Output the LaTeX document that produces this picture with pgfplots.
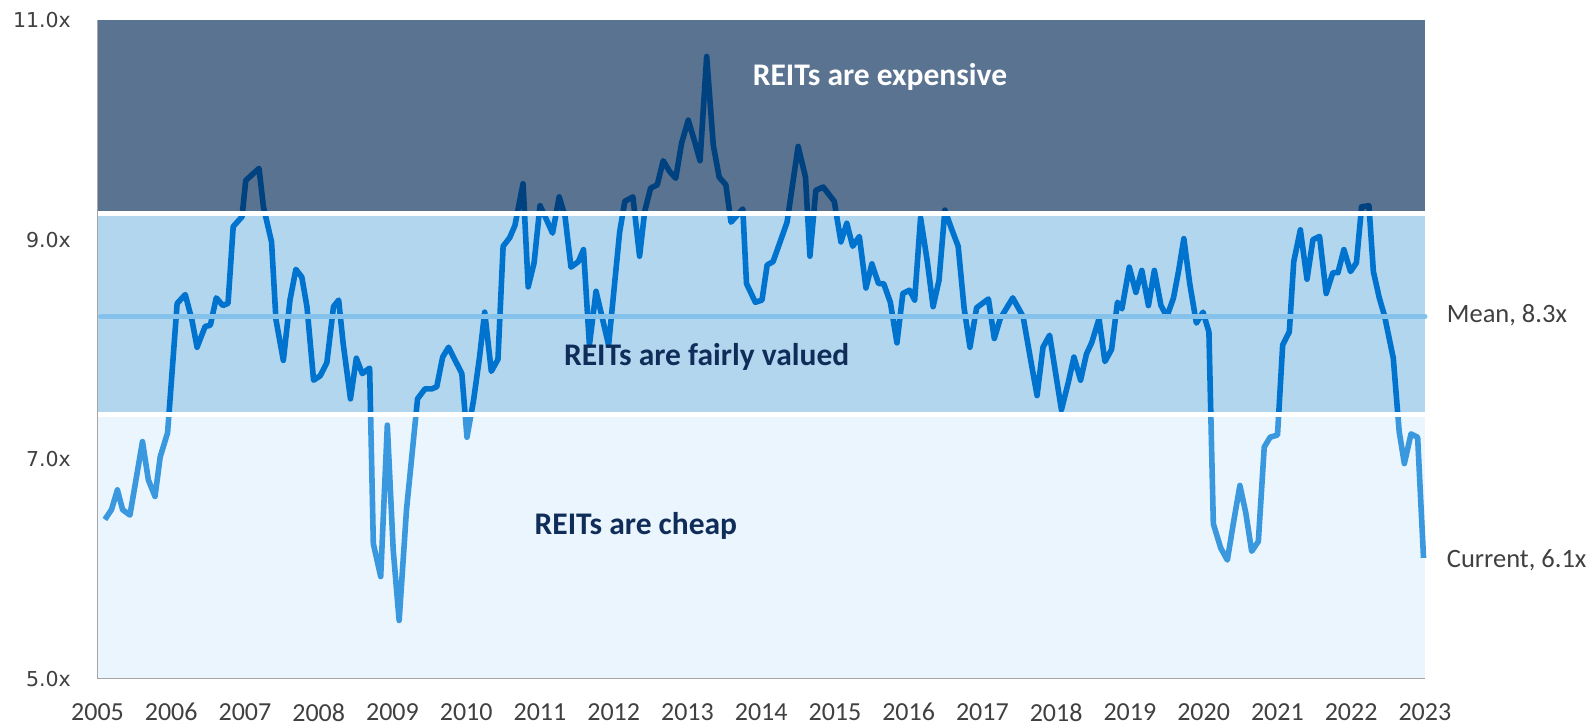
\documentclass[border=0pt]{standalone}
\usepackage{pgfplots}
\pgfplotsset{compat=1.18}
\usepackage{pgfplotstable}
\usepackage{fontspec}
\setmainfont{Carlito}
\newfontfamily\dejavu{DejaVu Sans}
\definecolor{expband}{HTML}{5A7391}
\definecolor{fairband}{HTML}{B3D6EF}
\definecolor{cheapband}{HTML}{EBF5FD}
\definecolor{expline}{HTML}{00427F}
\definecolor{fairline}{HTML}{0073CF}
\definecolor{cheapline}{HTML}{3A98DF}
\definecolor{meanline}{HTML}{85C2EB}
\definecolor{axisgray}{HTML}{A6A6A6}
\definecolor{labelgray}{HTML}{404040}
\definecolor{navytext}{HTML}{0F2D58}

\pgfplotstableread{
x y
2005.10 6.45
2005.19 6.54
2005.27 6.72
2005.34 6.54
2005.44 6.49
2005.61 7.16
2005.69 6.81
2005.78 6.66
2005.85 7.02
2005.95 7.24
2005.98 7.51
2006.08 8.42
2006.19 8.50
2006.28 8.27
2006.35 8.02
2006.46 8.21
2006.53 8.22
2006.61 8.47
2006.70 8.40
2006.77 8.42
2006.84 9.12
2006.96 9.21
2007.01 9.54
2007.19 9.65
2007.25 9.30
2007.36 8.98
2007.42 8.27
2007.52 7.90
2007.61 8.45
2007.69 8.73
2007.77 8.66
2007.84 8.39
2007.93 7.72
2008.02 7.76
2008.11 7.88
2008.20 8.39
2008.27 8.45
2008.33 8.06
2008.43 7.55
2008.51 7.92
2008.59 7.78
2008.69 7.83
2008.74 6.23
2008.84 5.93
2008.93 7.31
2009.01 6.17
2009.09 5.53
2009.19 6.54
2009.27 7.08
2009.34 7.55
2009.44 7.64
2009.53 7.64
2009.60 7.66
2009.68 7.93
2009.76 8.02
2009.85 7.90
2009.94 7.78
2010.01 7.20
2010.10 7.54
2010.18 7.93
2010.25 8.34
2010.34 7.80
2010.43 7.91
2010.50 8.94
2010.59 9.02
2010.66 9.13
2010.77 9.51
2010.84 8.57
2010.92 8.79
2011.00 9.31
2011.09 9.18
2011.17 9.06
2011.26 9.39
2011.34 9.21
2011.42 8.75
2011.52 8.80
2011.59 8.91
2011.67 8.04
2011.76 8.53
2011.84 8.30
2011.93 8.04
2012.08 9.07
2012.15 9.35
2012.26 9.39
2012.35 8.85
2012.42 9.26
2012.50 9.47
2012.59 9.50
2012.67 9.72
2012.76 9.62
2012.84 9.56
2012.92 9.88
2013.01 10.09
2013.09 9.91
2013.17 9.72
2013.26 10.67
2013.35 9.86
2013.43 9.57
2013.52 9.50
2013.59 9.16
2013.75 9.28
2013.80 8.60
2013.92 8.43
2014.01 8.45
2014.08 8.77
2014.16 8.80
2014.25 8.97
2014.35 9.16
2014.50 9.85
2014.60 9.57
2014.66 8.85
2014.74 9.45
2014.84 9.48
2014.99 9.35
2015.08 8.98
2015.16 9.15
2015.24 8.94
2015.33 9.03
2015.42 8.56
2015.50 8.78
2015.59 8.60
2015.66 8.60
2015.75 8.43
2015.84 8.06
2015.92 8.51
2016.01 8.54
2016.08 8.45
2016.16 9.20
2016.25 8.81
2016.33 8.39
2016.41 8.63
2016.49 9.27
2016.58 9.10
2016.67 8.94
2016.75 8.38
2016.83 8.02
2016.92 8.38
2017.08 8.46
2017.16 8.10
2017.24 8.28
2017.41 8.47
2017.55 8.30
2017.67 7.84
2017.74 7.58
2017.82 8.02
2017.91 8.13
2018.07 7.45
2018.16 7.69
2018.24 7.93
2018.33 7.72
2018.41 7.96
2018.48 8.06
2018.58 8.28
2018.66 7.89
2018.75 8.00
2018.83 8.43
2018.89 8.37
2018.99 8.75
2019.08 8.52
2019.16 8.72
2019.25 8.40
2019.33 8.72
2019.42 8.40
2019.50 8.30
2019.59 8.47
2019.66 8.72
2019.73 9.01
2019.81 8.60
2019.90 8.24
2019.99 8.34
2020.07 8.16
2020.13 6.41
2020.23 6.19
2020.32 6.08
2020.40 6.41
2020.49 6.76
2020.57 6.51
2020.65 6.16
2020.74 6.25
2020.82 7.11
2020.90 7.20
2021.00 7.22
2021.07 8.04
2021.16 8.16
2021.22 8.80
2021.31 9.09
2021.40 8.64
2021.48 9.00
2021.57 9.03
2021.66 8.51
2021.75 8.70
2021.82 8.70
2021.90 8.91
2021.99 8.71
2022.07 8.79
2022.14 9.30
2022.24 9.31
2022.30 8.71
2022.38 8.47
2022.45 8.31
2022.57 7.92
2022.65 7.25
2022.72 6.96
2022.81 7.23
2022.90 7.20
2022.98 6.10
}\pe

\begin{document}
\begin{tikzpicture}
\begin{axis}[
  name=ax,
  scale only axis,
  width=1327.5bp, height=658.3bp,
  xmin=2005, xmax=2023, ymin=5, ymax=11,
  axis on top,
  axis x line*=bottom, axis y line*=left,
  axis line style={draw=axisgray, line width=1.8bp, -},
  major tick length=0pt,
  xtick={2005,...,2023},
  xticklabels={2005,2006,2007,2008,2009,2010,2011,2012,2013,2014,2015,2016,2017,2018,2019,2020,2021,2022,2023},
  ytick={5,7,9,11},
  yticklabels={5.0x,7.0x,9.0x,11.0x},
  xticklabel style={font=\fontsize{26bp}{30bp}\selectfont, text=labelgray, inner sep=0pt, anchor=north, yshift=-24.5bp},
  yticklabel style={font=\dejavu\fontsize{20.5bp}{24bp}\selectfont, text=labelgray, inner sep=0pt, anchor=east, xshift=-26.5bp},
  clip=false,
]
% bands
\addplot[draw=none, fill=cheapband] coordinates {(2005,5) (2023,5) (2023,7.408) (2005,7.408)} -- cycle;
\addplot[draw=none, fill=fairband] coordinates {(2005,7.408) (2023,7.408) (2023,9.238) (2005,9.238)} -- cycle;
\addplot[draw=none, fill=expband] coordinates {(2005,9.238) (2023,9.238) (2023,11) (2005,11)} -- cycle;
% line, coloured by band
\begin{scope}
\clip (axis cs:2004.5,4.5) rectangle (axis cs:2023.5,7.408);
\addplot[cheapline, line width=5.6bp, line join=round] table[x=x,y=y] {\pe};
\end{scope}
\begin{scope}
\clip (axis cs:2004.5,7.408) rectangle (axis cs:2023.5,9.238);
\addplot[fairline, line width=5.6bp, line join=round] table[x=x,y=y] {\pe};
\end{scope}
\begin{scope}
\clip (axis cs:2004.5,9.238) rectangle (axis cs:2023.5,11.5);
\addplot[expline, line width=5.6bp, line join=round] table[x=x,y=y] {\pe};
\end{scope}
% white separators
\addplot[white, line width=5bp] coordinates {(2005,9.238) (2023,9.238)};
\addplot[white, line width=5bp] coordinates {(2005,7.408) (2023,7.408)};
% mean line
\addplot[meanline, line width=5bp, line cap=round] coordinates {(2005.04,8.3) (2023,8.3)};
% labels
\node[anchor=base, inner sep=0pt, text=white, font=\bfseries\fontsize{31.5bp}{36bp}\selectfont] at (axis cs:2015.61,10.41) {REITs are expensive};
\node[anchor=base, inner sep=0pt, text=navytext, font=\bfseries\fontsize{31.5bp}{36bp}\selectfont] at (axis cs:2013.26,7.85) {REITs are fairly valued};
\node[anchor=base, inner sep=0pt, text=navytext, font=\bfseries\fontsize{31.5bp}{36bp}\selectfont] at (axis cs:2012.30,6.31) {REITs are cheap};
\node[anchor=base west, inner sep=0pt, text=labelgray, font=\fontsize{26.5bp}{30bp}\selectfont] at ([xshift=21.7bp]axis cs:2023,8.243) {Mean, 8.3x};
\node[anchor=base west, inner sep=0pt, text=labelgray, font=\fontsize{26.5bp}{30bp}\selectfont] at ([xshift=21.7bp]axis cs:2023,6.013) {Current, 6.1x};
\end{axis}
\pgfresetboundingbox
\path ([xshift=-97.5bp,yshift=-46.4bp]ax.south west) rectangle ([xshift=168bp,yshift=20.3bp]ax.north east);
\end{tikzpicture}
\end{document}
